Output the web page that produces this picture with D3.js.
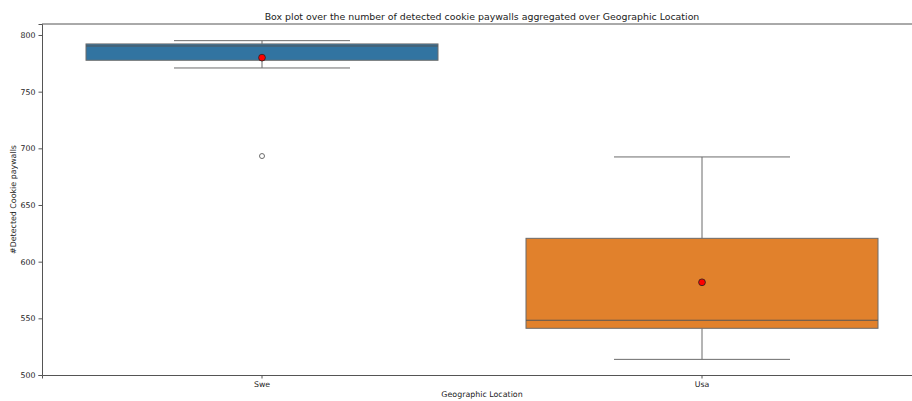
<!DOCTYPE html>
<html>
<head>
<meta charset="utf-8">
<script src="https://cdn.jsdelivr.net/npm/d3@7"></script>
<style>
  body { margin: 0; background: #fff; }
  text { font-family: "DejaVu Sans", sans-serif; fill: #222; }
</style>
</head>
<body>
<div id="chart"></div>
<script>
// Box summaries per location
const categories = ["Swe", "Usa"];
const q1 = [777.7, 541.2];
const medians = [790.3, 548.3];
const q3 = [792.1, 620.6];
const whiskerLow = [770.9, 513.8];
const whiskerHigh = [795.0, 692.4];
const means = [780.0, 581.8];
const outliers = [[693.2], []];
const yTicks = [500, 550, 600, 650, 700, 750, 800];
const colors = ["#3274a1", "#e1812c"];

const data = categories.map((c, i) => ({
    cat: c, q1: q1[i], med: medians[i], q3: q3[i],
    lo: whiskerLow[i], hi: whiskerHigh[i], mean: means[i],
    out: outliers[i], color: colors[i]
}));

// Set dimensions and margins
const margin = { top: 24, right: 0, bottom: 26, left: 42 };
const width = 880;
const height = 351;

const svg = d3.select("#chart")
    .append("svg")
    .attr("width", 912)
    .attr("height", 401);

const g = svg.append("g")
    .attr("transform", `translate(${margin.left},${margin.top})`);

const x = d3.scaleBand().domain(categories).range([0, width]).padding(0);
const y = d3.scaleLinear().domain([500, 809.7]).range([height, 0]);

const boxW = x.bandwidth() * 0.8;
const capW = boxW / 2;
const lineColor = "#6b6b6b";

// Axes
const yAxis = g.append("g")
    .call(d3.axisLeft(y).tickValues(yTicks).tickSize(3.5).tickPadding(3));
const xAxis = g.append("g")
    .attr("transform", `translate(0,${height})`)
    .call(d3.axisBottom(x).tickSize(3.5).tickPadding(3));
[xAxis, yAxis].forEach(a => {
    a.select(".domain").attr("stroke", "#555").attr("stroke-width", 1);
    a.selectAll(".tick line").attr("stroke", "#555");
    a.selectAll(".tick text").attr("font-size", 7.8).attr("fill", "#222")
        .attr("font-family", "DejaVu Sans, sans-serif");
});
// top spine
g.append("line")
    .attr("x1", 0).attr("x2", width)
    .attr("y1", 0).attr("y2", 0)
    .attr("stroke", "#555").attr("stroke-width", 1);

// Draw boxes
const boxes = g.selectAll("g.box")
    .data(data)
    .join("g")
    .attr("class", "box")
    .attr("transform", d => `translate(${x(d.cat) + x.bandwidth() / 2},0)`);

// whisker stems
boxes.append("line")
    .attr("x1", 0).attr("x2", 0)
    .attr("y1", d => y(d.q3)).attr("y2", d => y(d.hi))
    .attr("stroke", lineColor).attr("stroke-width", 1);
boxes.append("line")
    .attr("x1", 0).attr("x2", 0)
    .attr("y1", d => y(d.q1)).attr("y2", d => y(d.lo))
    .attr("stroke", lineColor).attr("stroke-width", 1);
// caps
boxes.selectAll("line.cap")
    .data(d => [d.hi, d.lo])
    .join("line")
    .attr("class", "cap")
    .attr("x1", -capW / 2).attr("x2", capW / 2)
    .attr("y1", v => y(v)).attr("y2", v => y(v))
    .attr("stroke", lineColor).attr("stroke-width", 1);

boxes.append("rect")
    .attr("x", -boxW / 2)
    .attr("width", boxW)
    .attr("y", d => y(d.q3))
    .attr("height", d => y(d.q1) - y(d.q3))
    .attr("fill", d => d.color)
    .attr("stroke", lineColor).attr("stroke-width", 1);

boxes.append("line")
    .attr("x1", -boxW / 2).attr("x2", boxW / 2)
    .attr("y1", d => y(d.med)).attr("y2", d => y(d.med))
    .attr("stroke", "#555").attr("stroke-width", 1);

// outliers
boxes.selectAll("circle.out")
    .data(d => d.out)
    .join("circle")
    .attr("class", "out")
    .attr("cx", 0).attr("cy", v => y(v)).attr("r", 2.5)
    .attr("fill", "none").attr("stroke", lineColor).attr("stroke-width", 1);

// mean markers
boxes.append("circle")
    .attr("cx", 0).attr("cy", d => y(d.mean)).attr("r", 3.4)
    .attr("fill", "red").attr("stroke", "#222").attr("stroke-width", 0.8);

// Labels
svg.append("text")
    .attr("x", margin.left + width / 2).attr("y", 20)
    .attr("text-anchor", "middle").attr("font-size", 9.4)
    .text("Box plot over the number of detected cookie paywalls aggregated over Geographic Location");

svg.append("text")
    .attr("x", margin.left + width / 2).attr("y", 397)
    .attr("text-anchor", "middle").attr("font-size", 7.9)
    .text("Geographic Location");

svg.append("text")
    .attr("transform", `translate(16,${margin.top + height / 2}) rotate(-90)`)
    .attr("text-anchor", "middle").attr("font-size", 7.9)
    .text("#Detected Cookie paywalls");
</script>
</body>
</html>
